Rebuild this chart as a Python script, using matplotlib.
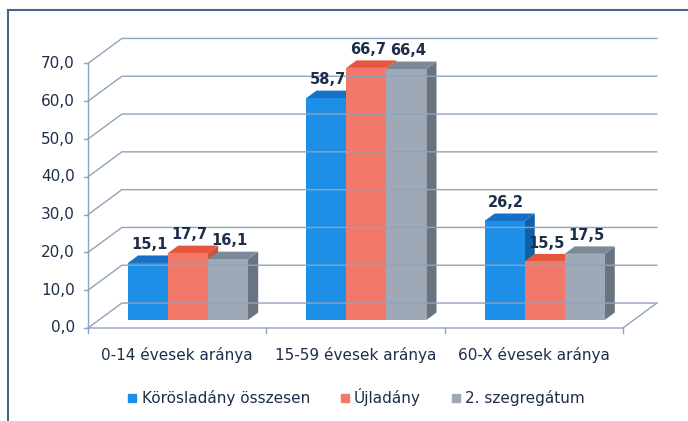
import matplotlib.pyplot as plt
from matplotlib.patches import Polygon
from matplotlib.lines import Line2D

categories = ['0-14 évesek aránya', '15-59 évesek aránya', '60-X évesek aránya']
series_names = ['Körösladány összesen', 'Újladány', '2. szegregátum']
korosladany = [15.1, 58.7, 26.2]
ujladany = [17.7, 66.7, 15.5]
szegregatum = [16.1, 66.4, 17.5]
y_ticks = [0, 10, 20, 30, 40, 50, 60, 70]

values = [korosladany, ujladany, szegregatum]
front_cols = ['#1e8fe6', '#f2796a', '#9ea8b6']
top_cols = ['#1570c8', '#e6563f', '#7e8997']
side_cols = ['#135fa8', '#c9543f', '#6a7481']
grid_col = '#8fa3bd'
text_col = '#1c2e4a'

# 3D look: full depth of the box and the slab occupied by the bars
DX, DY = 0.19, 6.6
f0 = 0.32      # bar front face depth fraction
fb = 0.30      # bar thickness fraction
bw = 0.2245    # bar width

fig = plt.figure(figsize=(6.88, 4.21), dpi=100)
ax = fig.add_axes([0, 0, 1, 1])
ax.set_xlim(-88 / 178.3, 600 / 178.3)
ax.set_ylim(-93 / 3.78, 328 / 3.78)
ax.axis('off')

# scan frame
ax.plot([-0.449, -0.449], [-30, 84.1], color='#4a6585', lw=1.5)
ax.plot([-0.449, 4], [84.1, 84.1], color='#4a6585', lw=1.5)

# walls and floor grid
for v in y_ticks:
    ax.plot([0, DX, 3 + DX], [v, v + DY, v + DY], color=grid_col, lw=1)
    ax.plot([-0.025, 0], [v, v], color=grid_col, lw=1)
    ax.text(-0.073, v, f'{v:.1f}'.replace('.', ','), ha='right', va='center',
            fontsize=11, color=text_col)
ax.plot([0, 0], [0, 70], color=grid_col, lw=1)
ax.plot([0, 3, 3 + DX], [0, 0, DY], color=grid_col, lw=1)
for i in range(4):
    ax.plot([i, i], [0, -1.4], color=grid_col, lw=1)

for i, cat in enumerate(categories):
    ax.text(i + 0.5, -7.2, cat, ha='center', va='center', fontsize=11, color=text_col)

ox, oy = DX * f0, DY * f0
tx, ty = DX * fb, DY * fb
for i in range(3):
    left0 = i + 0.5 - 1.5 * bw
    for s in range(3):
        v = values[s][i]
        x0 = left0 + s * bw + ox
        x1 = x0 + bw
        y0 = oy
        y1 = v + oy
        side = Polygon([(x1, y0), (x1 + tx, y0 + ty), (x1 + tx, y1 + ty), (x1, y1)],
                       closed=True, fc=side_cols[s], ec='none')
        top = Polygon([(x0, y1), (x1, y1), (x1 + tx, y1 + ty), (x0 + tx, y1 + ty)],
                      closed=True, fc=top_cols[s], ec='none')
        ax.add_patch(side)
        ax.add_patch(top)
        ax.bar(x0, v, bottom=y0, width=bw, align='edge', color=front_cols[s], lw=0)
        ax.text(x0 + bw / 2 + 0.01, y1 + ty + 0.9, f'{v:.1f}'.replace('.', ','),
                ha='center', va='bottom', fontsize=10.5, fontweight='bold', color=text_col)

handles = [Line2D([], [], marker='s', ls='none', markersize=6, color=c) for c in front_cols]
fig.legend(handles, series_names, loc='center', bbox_to_anchor=(0.518, 0.057), ncol=3,
           frameon=False, fontsize=11, handlelength=0.6, handletextpad=0.3,
           columnspacing=2.0, labelcolor=text_col)

fig.savefig('out.png', dpi=100)
